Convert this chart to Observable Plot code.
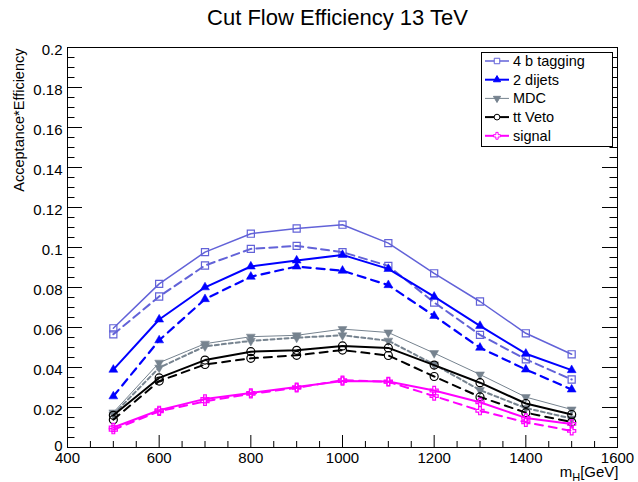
<!DOCTYPE html>
<html><head><meta charset="utf-8">
<script src="https://cdn.jsdelivr.net/npm/d3@7"></script>
<script src="https://cdn.jsdelivr.net/npm/@observablehq/plot@0.6"></script>
<style>
body{margin:0;background:#fff;}
#chart{width:638px;height:482px;}
</style>
</head><body><div id="chart"></div>
<script>
// ---- data ----
const massPoints = [500, 600, 700, 800, 900, 1000, 1100, 1200, 1300, 1400, 1500];
const seriesNames = ["4 b tagging", "2 dijets", "MDC", "tt Veto", "signal"];
// solid curves
const tagging4b = [0.0596, 0.0818, 0.0977, 0.1069, 0.1095, 0.1114, 0.1022, 0.0871, 0.0730, 0.0571, 0.0466];
const dijets2   = [0.0389, 0.0640, 0.0801, 0.0905, 0.0935, 0.0963, 0.0893, 0.0754, 0.0608, 0.0469, 0.0387];
const mdc       = [0.0175, 0.0424, 0.0519, 0.0554, 0.0561, 0.0592, 0.0575, 0.0472, 0.0365, 0.0252, 0.0190];
const ttVeto    = [0.0161, 0.0348, 0.0437, 0.0479, 0.0486, 0.0508, 0.0498, 0.0412, 0.0324, 0.0220, 0.0165];
const signal    = [0.0100, 0.0186, 0.0243, 0.0273, 0.0302, 0.0332, 0.0330, 0.0285, 0.0226, 0.0148, 0.0118];
// dashed curves
const tagging4bB = [0.0566, 0.0755, 0.0910, 0.0993, 0.1008, 0.0977, 0.0908, 0.0725, 0.0563, 0.0441, 0.0340];
const dijets2B   = [0.0256, 0.0536, 0.0742, 0.0854, 0.0905, 0.0884, 0.0812, 0.0658, 0.0499, 0.0390, 0.0290];
const mdcB       = [0.0165, 0.0399, 0.0506, 0.0533, 0.0549, 0.0561, 0.0534, 0.0415, 0.0287, 0.0197, 0.0145];
const ttVetoB    = [0.0139, 0.0332, 0.0415, 0.0446, 0.0461, 0.0487, 0.0460, 0.0355, 0.0253, 0.0174, 0.0127];
const signalB    = [0.0089, 0.0181, 0.0231, 0.0268, 0.0298, 0.0337, 0.0328, 0.0257, 0.0184, 0.0126, 0.0083];
// axis ticks
const xMajorTicks = [400, 600, 800, 1000, 1200, 1400, 1600];
const yMajorTicks = [0, 0.02, 0.04, 0.06, 0.08, 0.1, 0.12, 0.14, 0.16, 0.18, 0.2];

// ---- styles ----
const triangleDown = {
  draw(context, size) {
    const y = Math.sqrt(size / (Math.sqrt(3) * 3));
    const s3 = Math.sqrt(3);
    context.moveTo(0, y * 2);
    context.lineTo(-s3 * y, -y);
    context.lineTo(s3 * y, -y);
    context.closePath();
  }
};
const styles = {
  "4 b tagging": {color: "#6262d8", symbol: "square", filled: false, r: 4, w: 1.5, wB: 2, dash: "8,5", d3sym: d3.symbolSquare, lsize: 30},
  "2 dijets":    {color: "#0000ff", symbol: "triangle", filled: true, r: 3.3, w: 2, wB: 2.2, dash: "8,6", d3sym: d3.symbolTriangle, lsize: 22},
  "MDC":         {color: "#76838f", symbol: triangleDown, filled: true, r: 3.3, w: 1, wB: 2, dash: "4,3", d3sym: triangleDown, lsize: 22},
  "tt Veto":     {color: "#000000", symbol: "circle", filled: false, r: 4, w: 2, wB: 2, dash: "8,6", d3sym: d3.symbolCircle, lsize: 26},
  "signal":      {color: "#ff00ff", symbol: "cross", filled: false, r: 3.4, w: 2, wB: 2, dash: "8,6", d3sym: d3.symbolCross, lsize: 26}
};
const solidData = {"4 b tagging": tagging4b, "2 dijets": dijets2, "MDC": mdc, "tt Veto": ttVeto, "signal": signal};
const dashedData = {"4 b tagging": tagging4bB, "2 dijets": dijets2B, "MDC": mdcB, "tt Veto": ttVetoB, "signal": signalB};

const W = 638, H = 482, mL = 67, mR = 21, mT = 47, mB = 35;
const fw = W - mL - mR, fh = H - mT - mB;
const font = "'Liberation Sans', Arial, Helvetica, sans-serif";

const xMinor = d3.range(400, 1601, 50).filter(d => !xMajorTicks.includes(d));
const yMinor = d3.range(0, 41).map(i => +(i * 0.005).toFixed(3)).filter(d => !yMajorTicks.some(t => Math.abs(t - d) < 1e-9));
const yLabelTicks = yMajorTicks.filter(d => d !== 0);

const marks = [];
// tick marks (inward, ROOT style)
marks.push(Plot.tickY(yMajorTicks, {y: d => d, insetRight: fw - 15, stroke: "black"}));
marks.push(Plot.tickY(yMinor, {y: d => d, insetRight: fw - 7.5, stroke: "black"}));
marks.push(Plot.tickY(yMajorTicks, {y: d => d, insetLeft: fw - 15, stroke: "black"}));
marks.push(Plot.tickY(yMinor, {y: d => d, insetLeft: fw - 7.5, stroke: "black"}));
marks.push(Plot.tickX(xMajorTicks, {x: d => d, insetTop: fh - 12, stroke: "black"}));
marks.push(Plot.tickX(xMinor, {x: d => d, insetTop: fh - 6, stroke: "black"}));
marks.push(Plot.axisY(yLabelTicks, {tickSize: 0, tickPadding: 5, fontSize: 15, dy: 2.5, label: null,
  tickFormat: d => d3.format(".2~f")(d)}));
marks.push(Plot.axisY([0], {tickSize: 0, tickPadding: 5, fontSize: 15, dy: -1.5, label: null, tickFormat: () => "0"}));
marks.push(Plot.axisX(xMajorTicks, {tickSize: 0, tickPadding: 5, fontSize: 15, label: null, tickFormat: d => String(d)}));
marks.push(Plot.frame({stroke: "black"}));

// curves: dashed first, then solid
for (const name of seriesNames) {
  const st = styles[name];
  for (const [variant, src] of [["B", dashedData[name]], ["A", solidData[name]]]) {
    const rows = massPoints.map((m, i) => ({mass: m, eff: src[i]}));
    marks.push(Plot.line(rows, {x: "mass", y: "eff", stroke: st.color,
      strokeWidth: variant === "A" ? st.w : st.wB,
      strokeDasharray: variant === "A" ? null : st.dash}));
    marks.push(Plot.dot(rows, {x: "mass", y: "eff", symbol: st.symbol, r: st.r,
      fill: st.filled ? st.color : "none", stroke: st.color, strokeWidth: st.filled ? 0.5 : 1.2}));
  }
}

// title and axis labels
marks.push(Plot.text(["Cut Flow Efficiency 13 TeV"], {frameAnchor: "top", dx: -5, dy: -30, lineAnchor: "middle", fontSize: 22, fill: "black"}));
marks.push(Plot.text(["Acceptance*Efficiency"], {frameAnchor: "top-left", rotate: -90, textAnchor: "end", lineAnchor: "middle", dx: -48, dy: 1, fontSize: 14.5, fill: "black"}));
marks.push(Plot.text(["m_H[GeV]"], {frameAnchor: "bottom-right", textAnchor: "end", lineAnchor: "middle", dx: 1, dy: 25, fontSize: 15, fill: "black"}));

const svg = Plot.plot({
  width: W, height: H,
  marginLeft: mL, marginRight: mR, marginTop: mT, marginBottom: mB,
  x: {domain: [400, 1600]},
  y: {domain: [0, 0.2]},
  style: {fontFamily: font, fontSize: "15px", color: "black", background: "white"},
  marks
});

// subscript in x label
d3.select(svg).selectAll("text").filter(function() { return this.textContent === "m_H[GeV]"; })
  .each(function() {
    const t = d3.select(this);
    t.text(null);
    t.append("tspan").text("m");
    t.append("tspan").attr("font-size", 11).attr("dy", 4).text("H");
    t.append("tspan").attr("dy", -4).text("[GeV]");
  });

// legend box (inside frame, top-right)
const lg = d3.select(svg).append("g").attr("transform", "translate(481,52)")
  .attr("font-family", font).attr("text-anchor", "start");
lg.append("rect").attr("x", 0.5).attr("y", 0.5).attr("width", 131).attr("height", 94).attr("fill", "white").attr("stroke", "black");
seriesNames.forEach((name, i) => {
  const st = styles[name];
  const y = 9 + i * 18.7;
  lg.append("line").attr("x1", 4).attr("x2", 28).attr("y1", y).attr("y2", y).attr("stroke", st.color).attr("stroke-width", st.w);
  lg.append("path").attr("transform", `translate(16,${y})`).attr("d", d3.symbol(st.d3sym, st.lsize)())
    .attr("fill", st.filled ? st.color : "white").attr("stroke", st.color).attr("stroke-width", 1);
  lg.append("text").attr("x", 32).attr("y", y).attr("dy", "0.35em").attr("font-size", 14.5)
    .attr("text-anchor", "start").attr("fill", "black").text(name);
});

document.getElementById("chart").appendChild(svg);
</script></body></html>
